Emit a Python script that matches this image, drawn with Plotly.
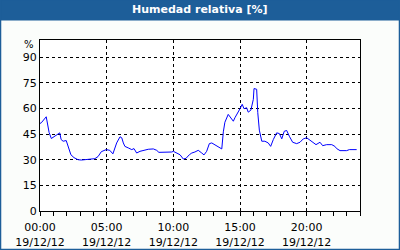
import plotly.graph_objects as go

times = ["00:00", "00:06", "00:28", "00:41", "00:51", "01:08", "01:29", "01:35", "01:44", "01:58",
         "02:10", "02:19", "02:33", "02:51", "03:06", "03:22", "03:45", "04:07", "04:21", "04:36",
         "04:58", "05:14", "05:28", "05:45", "06:00", "06:08", "06:15", "06:22", "06:37", "06:53",
         "07:03", "07:15", "07:30", "07:45", "08:07", "08:30", "08:45", "08:55", "09:15", "09:37",
         "09:53", "10:00", "10:12", "10:30", "10:45", "10:57", "11:12", "11:23", "11:37", "11:52",
         "12:08", "12:18", "12:30", "12:42", "12:53", "13:07", "13:22", "13:38", "13:45", "13:52",
         "14:07", "14:30", "14:37", "14:48", "15:00", "15:10", "15:18", "15:30", "15:37", "15:49",
         "16:00", "16:03", "16:15", "16:20", "16:27", "16:38", "16:52", "17:07", "17:18", "17:30",
         "17:45", "17:57", "18:08", "18:19", "18:30", "18:42", "18:57", "19:15", "19:30", "19:45",
         "20:00", "20:15", "20:30", "20:42", "21:00", "21:12", "21:30", "21:53", "22:07", "22:15",
         "22:30", "23:00", "23:12", "23:45"]
humidity = [51.2, 51.6, 55.1, 45.9, 42.4, 44.1, 45.7, 41.8, 40.8, 41.2,
            36.5, 32.9, 31.2, 30.0, 29.8, 30.0, 30.6, 30.6, 31.8, 34.7,
            35.9, 35.5, 33.4, 39.8, 43.4, 42.8, 39.8, 37.8, 36.9, 35.9,
            36.5, 33.9, 34.9, 35.5, 36.1, 36.3, 35.5, 34.3, 34.3, 34.3,
            34.5, 34.9, 33.9, 32.9, 30.4, 30.8, 32.9, 33.9, 34.5, 35.5,
            33.9, 32.8, 34.9, 39.4, 39.8, 38.8, 37.8, 36.3, 46.3, 51.9,
            56.5, 52.5, 54.5, 57.5, 59.8, 62.4, 59.8, 60.4, 57.8, 59.0,
            65.3, 71.6, 71.2, 57.5, 47.3, 40.8, 40.8, 39.8, 37.8, 41.8,
            45.7, 45.3, 42.2, 46.6, 47.1, 43.7, 40.2, 39.4, 40.2, 42.2,
            42.8, 41.4, 39.8, 38.8, 40.2, 38.2, 38.8, 38.8, 37.8, 36.5,
            35.3, 35.3, 35.9, 35.9]
date = "2012-12-19"
title = "Humedad relativa [%]"
unit = "%"

x = [f"{date} {t}" for t in times]

BLUE = "#1d5e99"
BG = "#fbfdfb"
FONT = "DejaVu Sans"
DASH = "3px,3px"

fig = go.Figure()
fig.add_trace(go.Scatter(x=x, y=humidity, mode="lines",
                         line=dict(color="#0000ff", width=1), hoverinfo="skip"))

fig.update_layout(
    width=400, height=250,
    margin=dict(l=40, r=40, t=40, b=39, autoexpand=False),
    paper_bgcolor=BG, plot_bgcolor="#ffffff",
    showlegend=False,
    font=dict(family=FONT, size=11, color="#000000"),
    shapes=[
        dict(type="rect", xref="paper", yref="paper", x0=-0.125, x1=1.125, y0=1.0 + 19.5 / 171, y1=1.0 + 40 / 171,
             fillcolor=BLUE, line=dict(width=0), layer="below"),
        dict(type="rect", xref="paper", yref="paper", x0=-0.1234, x1=1.1234, y0=-39 / 171 + 0.003, y1=1.0 + 40 / 171,
             fillcolor="rgba(0,0,0,0)", line=dict(color=BLUE, width=1.5)),
    ],
    annotations=[
        dict(text=f"<b>{title}</b>", xref="paper", yref="paper", x=0.5, y=1.0 + 30 / 171,
             xanchor="center", yanchor="middle", showarrow=False,
             font=dict(family=FONT, size=11, color="#ffffff")),
        dict(text=unit, xref="paper", yref="paper", x=-4 / 320, y=1.0 - 4 / 171, xanchor="right", yanchor="middle",
             showarrow=False, font=dict(family=FONT, size=10, color="#000000")),
    ],
)

fig.update_xaxes(
    type="date", automargin=False,
    range=[f"{date} 00:00", "2012-12-20 00:00"],
    tick0=f"{date} 00:00", dtick=5 * 3600000,
    tickformat="%H:%M<br>%d/%m/%y",
    ticks="outside", ticklen=4, tickcolor="#000000",
    ticklabelstandoff=2,
    minor=dict(dtick=3600000, tick0=f"{date} 00:00", ticks="outside", ticklen=4,
               tickcolor="#000000", showgrid=False),
    showgrid=True, gridcolor="#000000", griddash=DASH, gridwidth=1,
    showline=True, linecolor="#000000", linewidth=1, mirror=True,
    zeroline=False, tickfont=dict(family=FONT, size=11),
)
fig.update_yaxes(
    range=[0, 100], tick0=0, dtick=15, automargin=False,
    showgrid=True, gridcolor="#000000", griddash=DASH, gridwidth=1,
    showline=True, linecolor="#000000", linewidth=1, mirror=True,
    zeroline=False, ticks="", tickfont=dict(family=FONT, size=11),
)

fig.write_html("out.html")
